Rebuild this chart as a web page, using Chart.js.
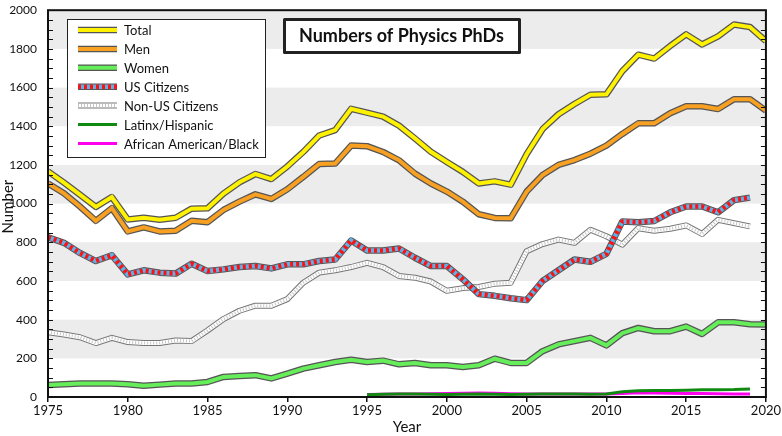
<!DOCTYPE html>
<html>
<head>
<meta charset="utf-8">
<title>Numbers of Physics PhDs</title>
<script src="https://cdn.jsdelivr.net/npm/chart.js@4.4.1/dist/chart.umd.min.js"></script>
<style>
  html, body { margin: 0; padding: 0; background: #fff; }
  #wrap { width: 782px; height: 436px; }
</style>
</head>
<body>
<div id="wrap"><canvas id="mycanvas"></canvas></div>
<script>
// values (approx.)
var startYear = 1975;
var total = [1167,1108,1046,983,1034,918,927,916,927,974,
  976,1052,1110,1153,1127,1192,1267,1352,1380,1490,
  1470,1450,1403,1337,1268,1215,1164,1104,1115,1098,
  1255,1385,1462,1515,1563,1565,1685,1770,1750,1815,
  1875,1823,1865,1926,1913,1840];
var men = [1104,1053,985,911,976,856,877,856,860,911,
  904,967,1010,1048,1024,1074,1138,1205,1207,1300,
  1297,1267,1224,1155,1104,1062,1010,945,926,924,
  1062,1148,1200,1225,1258,1300,1360,1415,1415,1467,
  1503,1503,1489,1540,1540,1481];
var women = [62,66,70,70,70,66,58,64,70,70,
  78,104,109,113,96,121,147,164,181,193,
  181,188,169,176,164,164,155,164,198,176,
  176,237,272,289,306,267,330,357,340,340,
  364,326,386,386,376,375];
var usCitizens = [826,797,745,703,733,634,655,643,638,689,
  651,660,672,677,665,686,686,703,711,809,
  757,757,768,720,677,677,609,532,523,511,
  501,600,655,711,699,740,908,904,910,955,
  985,985,955,1018,1031];
var nonUS = [335,323,309,279,306,284,279,279,292,289,
  344,403,446,472,472,506,591,643,655,672,
  694,672,626,617,597,549,563,569,586,591,
  754,791,814,797,865,831,788,873,860,870,
  887,843,916,899,882];
// these two only start in 1995
var raceStart = 1995;
var latinx = [12,14,16,15,14,13,14,15,14,13,14,16,15,15,14,16,27,32,33,34,35,37,38,39,42];
var black = [13,14,15,16,17,18,20,21,20,17,15,15,15,16,15,15,18,22,21,20,18,18,17,16,15];

var xTicks = [1975,1980,1985,1990,1995,2000,2005,2010,2015,2020];
var yTicks = [0,200,400,600,800,1000,1200,1400,1600,1800,2000];

var FONT = "Lato, 'Open Sans', sans-serif";

function pts(arr, y0) {
  return arr.map(function(v, i){ return {x: y0 + i, y: v}; });
}

// draw a polyline through the meta points with given style
function strokePath(ctx, points, color, width, dash) {
  ctx.beginPath();
  for (var i = 0; i < points.length; i++) {
    if (i == 0) ctx.moveTo(points[i].x, points[i].y);
    else ctx.lineTo(points[i].x, points[i].y);
  }
  ctx.lineWidth = width;
  ctx.strokeStyle = color;
  ctx.setLineDash(dash || []);
  ctx.lineJoin = 'round';
  ctx.lineCap = 'butt';
  ctx.stroke();
  ctx.setLineDash([]);
}

// sample line for the legend, same layers as the data line
function sampleLine(ctx, ds, x1, x2, y) {
  var p = [{x:x1,y:y},{x:x2,y:y}];
  if (ds.outlineColor) strokePath(ctx, p, ds.outlineColor, ds.outlineWidth);
  strokePath(ctx, p, ds.borderColor, ds.borderWidth);
  if (ds.overlayColor) strokePath(ctx, p, ds.overlayColor, ds.overlayWidth, ds.overlayDash);
}

var decor = {
  id: 'decor',
  beforeDraw: function(chart) {
    // grey bands 200-400, 600-800 ...
    var ctx = chart.ctx, a = chart.chartArea, ys = chart.scales.y;
    ctx.save();
    ctx.fillStyle = '#ececec';
    for (var v = 200; v < 2000; v += 400) {
      var top = ys.getPixelForValue(v + 200), bot = ys.getPixelForValue(v);
      ctx.fillRect(a.left, top, a.right - a.left, bot - top);
    }
    ctx.restore();
  },
  beforeDatasetDraw: function(chart, args) {
    var ds = chart.data.datasets[args.index];
    if (!ds.outlineColor) return;
    var ctx = chart.ctx, a = chart.chartArea;
    ctx.save();
    ctx.beginPath(); ctx.rect(a.left, a.top, a.right - a.left, a.bottom - a.top); ctx.clip();
    strokePath(ctx, args.meta.data, ds.outlineColor, ds.outlineWidth);
    ctx.restore();
  },
  afterDatasetDraw: function(chart, args) {
    var ds = chart.data.datasets[args.index];
    if (!ds.overlayColor) return;
    var ctx = chart.ctx, a = chart.chartArea;
    ctx.save();
    ctx.beginPath(); ctx.rect(a.left, a.top, a.right - a.left, a.bottom - a.top); ctx.clip();
    strokePath(ctx, args.meta.data, ds.overlayColor, ds.overlayWidth, ds.overlayDash);
    ctx.restore();
  },
  afterDraw: function(chart) {
    var ctx = chart.ctx, a = chart.chartArea, ys = chart.scales.y;
    ctx.save();
    // frame
    ctx.strokeStyle = '#111';
    ctx.lineWidth = 2;
    ctx.strokeRect(a.left, a.top, a.right - a.left, a.bottom - a.top);
    // inward minor ticks every 50 on both sides
    ctx.lineWidth = 1.2;
    ctx.beginPath();
    for (var v = 50; v < 2000; v += 50) {
      var y = Math.round(ys.getPixelForValue(v)) + 0.5;
      ctx.moveTo(a.left, y); ctx.lineTo(a.left + 5, y);
      ctx.moveTo(a.right, y); ctx.lineTo(a.right - 5, y);
    }
    ctx.stroke();

    // y axis title, drawn here so it sits tight against the labels
    ctx.fillStyle = '#111';
    ctx.font = '15px ' + FONT;
    ctx.textAlign = 'center';
    ctx.textBaseline = 'middle';
    ctx.translate(8, (a.top + a.bottom) / 2 + 3);
    ctx.rotate(-Math.PI / 2);
    ctx.fillText('Number', 0, 0);
    ctx.setTransform(1, 0, 0, 1, 0, 0);
    ctx.restore();
    ctx.save();

    // legend box
    var lx = 67, ly = 19, lw = 198, lh = 138;
    ctx.fillStyle = '#fff';
    ctx.fillRect(lx, ly, lw, lh);
    ctx.lineWidth = 1;
    ctx.strokeStyle = '#222';
    ctx.strokeRect(lx + 0.5, ly + 0.5, lw, lh);
    ctx.font = '13px ' + FONT;
    ctx.textBaseline = 'middle';
    ctx.textAlign = 'left';
    chart.data.datasets.forEach(function(ds, i) {
      var y = 30 + i * 18.9;
      sampleLine(ctx, ds, 78, 117, y);
      ctx.fillStyle = '#111';
      ctx.fillText(ds.label, 124, y + 1);
    });

    // title box
    ctx.fillStyle = '#fff';
    ctx.fillRect(284, 19, 235, 33);
    ctx.strokeStyle = '#222';
    ctx.strokeRect(284.5, 19.5, 235, 33);
    ctx.fillStyle = '#111';
    ctx.font = 'bold 18px ' + FONT;
    ctx.textAlign = 'center';
    ctx.fillText('Numbers of Physics PhDs', 401.5, 36.5);
    ctx.restore();
  }
};

const data = {
  datasets: [{
    label: 'Total',
    data: pts(total, startYear),
    borderColor: '#fff200',
    borderWidth: 4,
    outlineColor: '#555',
    outlineWidth: 6.5
  }, {
    label: 'Men',
    data: pts(men, startYear),
    borderColor: '#f7a021',
    borderWidth: 4,
    outlineColor: '#555',
    outlineWidth: 6.5
  }, {
    label: 'Women',
    data: pts(women, startYear),
    borderColor: '#66ee5a',
    borderWidth: 4,
    outlineColor: '#555',
    outlineWidth: 6.5
  }, {
    label: 'US Citizens',
    data: pts(usCitizens, startYear),
    borderColor: '#5eb0e5',
    borderWidth: 4.5,
    outlineColor: '#555',
    outlineWidth: 6.5,
    overlayColor: '#ff1111',
    overlayWidth: 4.5,
    overlayDash: [3, 3]
  }, {
    label: 'Non-US Citizens',
    data: pts(nonUS, startYear),
    borderColor: '#ffffff',
    borderWidth: 4,
    outlineColor: '#777',
    outlineWidth: 6,
    overlayColor: '#c4c4c4',
    overlayWidth: 3,
    overlayDash: [1, 2]
  }, {
    label: 'Latinx/Hispanic',
    data: pts(latinx, raceStart),
    borderColor: '#118a11',
    borderWidth: 3
  }, {
    label: 'African American/Black',
    data: pts(black, raceStart),
    borderColor: '#ff00ee',
    borderWidth: 3
  }]
};

const config = {
  type: 'line',
  data: data,
  plugins: [decor],
  options: {
    responsive: true,
    maintainAspectRatio: false,
    animation: false,
    layout: { padding: { left: 0, right: 15, top: 0, bottom: 0 } },
    elements: {
      point: { radius: 0, hoverRadius: 0 },
      line: { tension: 0, fill: false }
    },
    plugins: {
      legend: { display: false },
      tooltip: { enabled: false }
    },
    scales: {
      x: {
        type: 'linear',
        min: 1975,
        max: 2020,
        afterFit: function(s) { s.height = 39; },
        afterBuildTicks: function(s) { s.ticks = xTicks.map(function(v){ return {value: v}; }); },
        grid: { drawOnChartArea: false, drawTicks: true, tickLength: 5, color: '#111', lineWidth: 1.5 },
        border: { display: false },
        ticks: { color: '#111', font: { family: FONT, size: 13 }, padding: 1, maxRotation: 0,
                 callback: function(v){ return String(v); } },
        title: { display: true, text: 'Year', color: '#111', font: { family: FONT, size: 15 }, padding: { top: 0, bottom: 0 } }
      },
      y: {
        min: 0,
        max: 2000,
        afterFit: function(s) { s.width = 48; },
        afterBuildTicks: function(s) { s.ticks = yTicks.map(function(v){ return {value: v}; }); },
        grid: { display: false },
        border: { display: false },
        ticks: { color: '#111', font: { family: FONT, size: 12 }, padding: 3,
                 callback: function(v){ return String(v); } },
        title: { display: false }
      }
    }
  }
};

var ctx = document.getElementById('mycanvas');
const myChart = new Chart(ctx, config);
</script>
</body>
</html>
